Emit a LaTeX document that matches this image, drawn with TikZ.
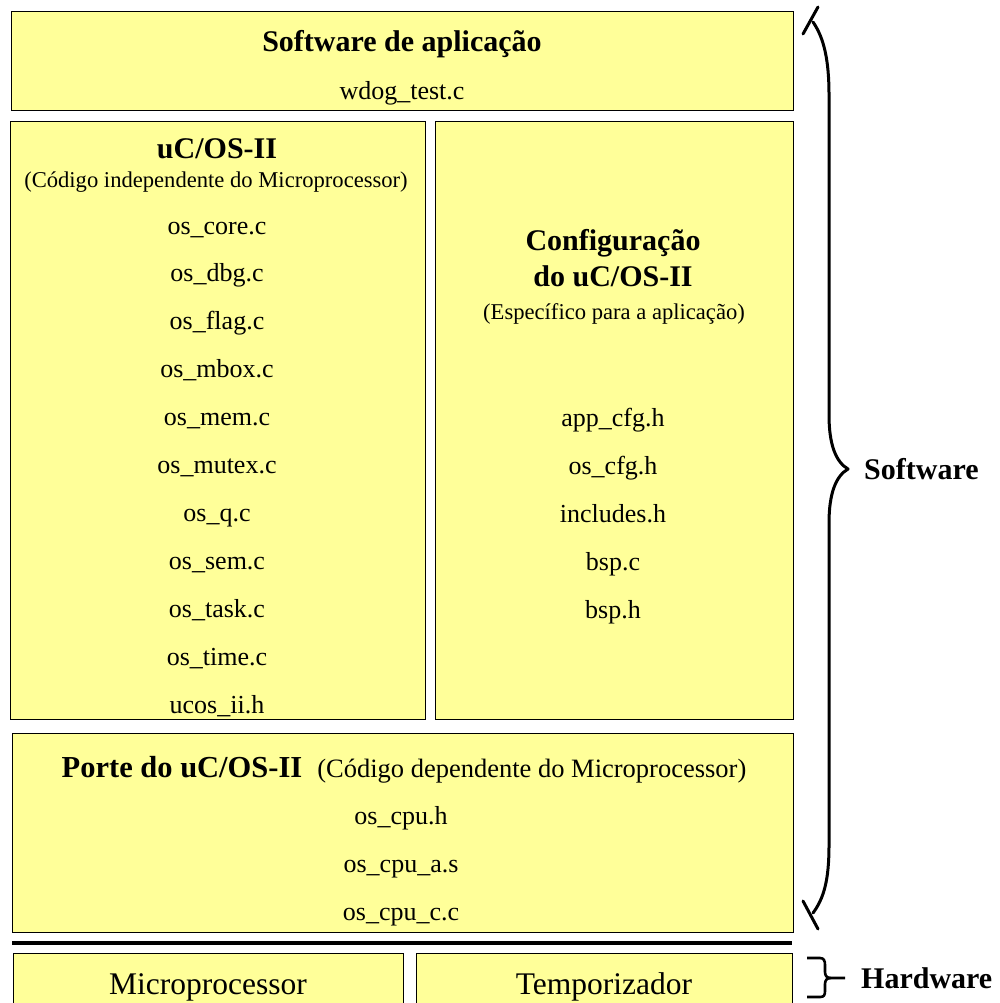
\documentclass[tikz,border=0pt]{standalone}
\usepackage{fontspec}
\setmainfont{Liberation Serif}
\definecolor{boxyellow}{HTML}{FFFF99}
\begin{document}
\begin{tikzpicture}[x=1pt,y=-1pt,
  box/.style={draw=black, line width=0.9pt, fill=boxyellow, inner sep=0pt, anchor=north west},
  ttl/.style={font=\fontsize{30}{34}\selectfont\bfseries, inner sep=0pt, text height=21pt, text depth=7pt},
  itm/.style={font=\fontsize{26}{30}\selectfont, inner sep=0pt, text height=18pt, text depth=6pt},
  subt/.style={font=\fontsize{22.6}{26}\selectfont, inner sep=0pt, text height=15pt, text depth=5pt},
  big/.style={font=\fontsize{31.5}{35}\selectfont, inner sep=0pt, text height=21pt, text depth=7pt},
  brace/.style={line width=3pt, line cap=round, line join=round}]
\useasboundingbox (0,0) rectangle (1000,1003);
\clip (0,0) rectangle (1000,1003);

% boxes
\node[box, minimum width=782pt, minimum height=99pt] (app) at (11,11) {};
\node[box, minimum width=415.5pt, minimum height=598pt] (ucos) at (9.5,121) {};
\node[box, minimum width=358.5pt, minimum height=598pt] (cfg) at (434.5,121) {};
\node[box, minimum width=781.5pt, minimum height=199pt] (port) at (11.5,733) {};
\node[box, minimum width=390pt, minimum height=60pt] (micro) at (13,953) {};
\node[box, minimum width=376.5pt, minimum height=60pt] (timer) at (415.5,953) {};
\coordinate (hl) at (12,943);
\coordinate (hr) at (792,943);
\draw[line width=3.5pt] (hl) -- (hr);

% application
\node[ttl] (appT) at (402,45) {Software de aplicação};
\node[itm] (appF) at (402,94) {wdog\_test.c};

% uC/OS-II
\node[ttl] (ucT) at (217,152) {uC/OS-II};
\node[subt] (ucS) at (216,183) {(Código independente do Microprocessor)};
\foreach \t [count=\i from 0] in {os\_core.c, os\_dbg.c, os\_flag.c, os\_mbox.c, os\_mem.c, os\_mutex.c, os\_q.c, os\_sem.c, os\_task.c, os\_time.c, ucos\_ii.h}
  \node[itm] (uc\i) at (217,{228+47.9*\i}) {\t};

% configuration
\node[ttl] (cfT1) at (613,243) {Configuração};
\node[ttl] (cfT2) at (613,279) {do uC/OS-II};
\node[subt] (cfS) at (614,314) {(Específico para a aplicação)};
\foreach \t [count=\i from 0] in {app\_cfg.h, os\_cfg.h, includes.h, bsp.c, bsp.h}
  \node[itm] (cf\i) at (613,{420+48*\i}) {\t};

% port
\node[inner sep=0pt, text height=21pt, text depth=7pt] (poT) at (404,770)
  {{\fontsize{30.5}{34}\selectfont\bfseries Porte do uC/OS-II}\hspace{15pt}{\fontsize{26.5}{30}\selectfont (Código dependente do Microprocessor)}};
\node[itm] (po0) at (401,818) {os\_cpu.h};
\node[itm] (po1) at (401,866) {os\_cpu\_a.s};
\node[itm] (po2) at (401,914) {os\_cpu\_c.c};

% hardware
\node[big] (miT) at (208,987) {Microprocessor};
\node[big] (tiT) at (604,987) {Temporizador};

% software brace
\draw[brace] (803,34) -- (818,7);
\draw[brace] (813,22) .. controls (824,38) and (829,60) .. (829,95)
  -- (829,415) .. controls (829,445) and (836,462) .. (848,469)
  .. controls (836,476) and (829,493) .. (829,523)
  -- (829,845) .. controls (829,880) and (824,898) .. (813,913);
\draw[brace] (803,901) -- (818,929);
\node[ttl, anchor=west] (sw) at (864,472) {Software};

% hardware brace
\draw[line width=2.6pt, line join=round] (807,958) -- (820,958)
  .. controls (824,958) and (825,961) .. (825,965) -- (825,972)
  .. controls (825,976) and (827,978) .. (831,978) -- (845,978);
\draw[line width=2.6pt, line join=round] (831,978)
  .. controls (827,978) and (825,980) .. (825,984) -- (825,991)
  .. controls (825,995) and (824,997) .. (820,997) -- (807,997);
\node[ttl, anchor=west] (hw) at (861,981) {Hardware};
\end{tikzpicture}
\end{document}
